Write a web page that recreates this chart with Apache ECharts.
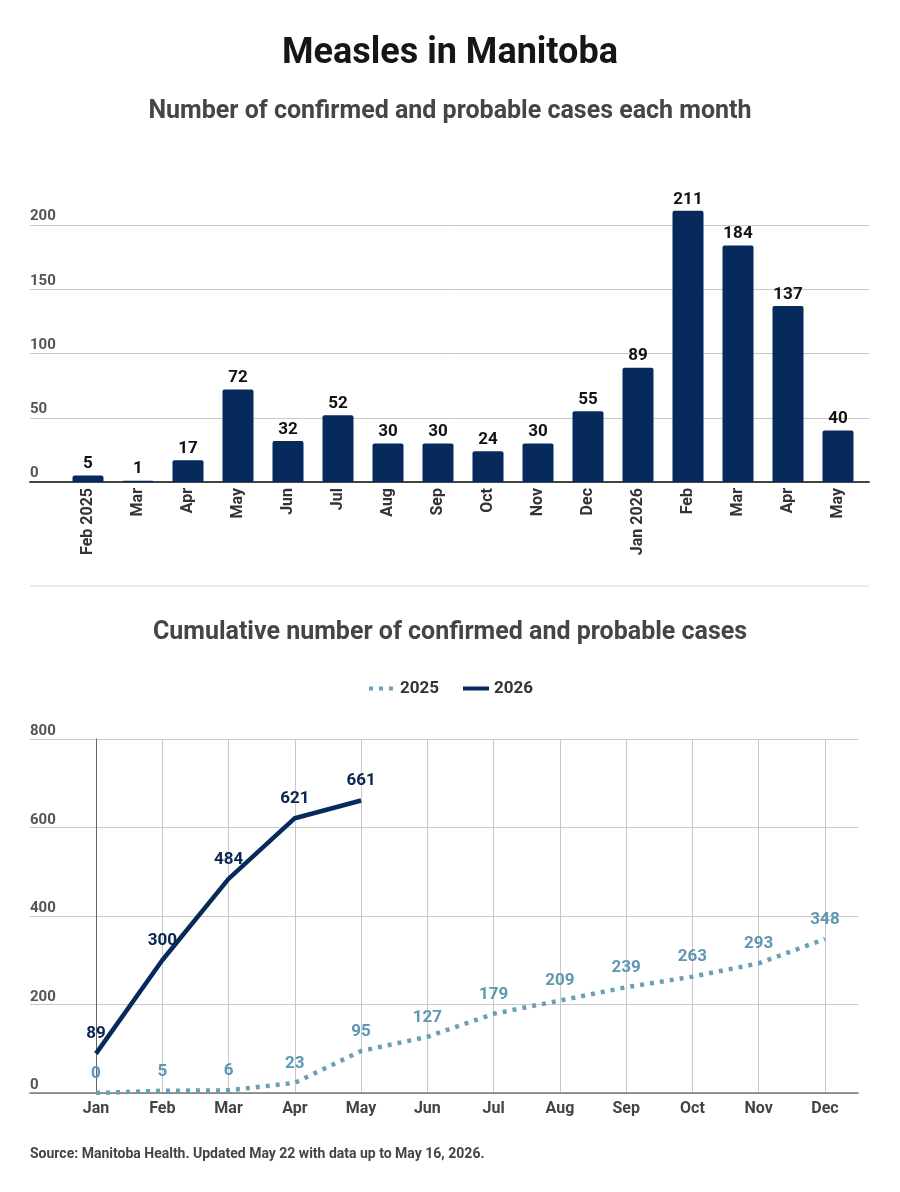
<!DOCTYPE html>
<html>
<head>
<meta charset="utf-8">
<script src="https://cdn.jsdelivr.net/npm/echarts@6/dist/echarts.min.js"></script>
<style>
html,body{margin:0;padding:0;background:#fff;}
#chart{width:900px;height:1192px;}
</style>
</head>
<body>
<div id="chart"></div>
<script>
// Monthly chart
var monthCategories = ['Feb 2025','Mar','Apr','May','Jun','Jul','Aug','Sep','Oct','Nov','Dec','Jan 2026','Feb','Mar','Apr','May'];
var monthlyCases = [5,1,17,72,32,52,30,30,24,30,55,89,211,184,137,40];
var monthlyTicks = [0,50,100,150,200];

// Cumulative chart
var cumMonths = ['Jan','Feb','Mar','Apr','May','Jun','Jul','Aug','Sep','Oct','Nov','Dec'];
var cum2025 = [0,5,6,23,95,127,179,209,239,263,293,348];
var cum2026 = [89,300,484,621,661];
var cumTicks = [0,200,400,600,800];

var NAVY = '#062a5c';
var TEAL = '#6a9fb8';
var FONT = 'Roboto, "Noto Sans", sans-serif';

var chart = echarts.init(document.getElementById('chart'), null, {renderer:'canvas'});

var option = {
  backgroundColor:'#ffffff',
  textStyle:{fontFamily:FONT},
  animation:false,
  title:[
    {text:'Measles in Manitoba', left:'center', top:31,
     textStyle:{fontFamily:FONT, fontSize:36, fontWeight:'bold', color:'#161616'}},
    {text:'Number of confirmed and probable cases each month', left:'center', top:94,
     textStyle:{fontFamily:FONT, fontSize:25, fontWeight:'bold', color:'#454545'}},
    {text:'Cumulative number of confirmed and probable cases', left:'center', top:615,
     textStyle:{fontFamily:FONT, fontSize:25, fontWeight:'bold', color:'#454545'}},
    {text:'Source: Manitoba Health. Updated May 22 with data up to May 16, 2026.', left:25, top:1142,
     textStyle:{fontFamily:FONT, fontSize:14, fontWeight:'bold', color:'#444'}}
  ],
  legend:{
    data:['2025','2026'], top:675, left:'center',
    itemWidth:26, itemHeight:14, itemGap:22,
    itemStyle:{opacity:0},
    lineStyle:{width:4},
    textStyle:{fontFamily:FONT, fontSize:17, fontWeight:'bold', color:'#333'}
  },
  graphic:[
    {type:'line', shape:{x1:30,y1:586,x2:869,y2:586}, style:{stroke:'#e6e6e6', lineWidth:1.5}}
  ],
  grid:[
    {left:30, right:31, top:225, bottom:710, containLabel:false},
    {left:63, right:37, top:160.75, bottom:710, containLabel:false},
    {left:30, right:42, top:739, bottom:99, containLabel:false},
    {left:96, right:75, top:739, bottom:99, containLabel:false}
  ],
  xAxis:[
    {gridIndex:0, type:'value', min:0, max:1, axisLabel:{show:false}, axisTick:{show:false},
     splitLine:{show:false}, axisLine:{show:true, lineStyle:{color:'#444', width:2}}},
    {gridIndex:1, type:'category', data:monthCategories, axisLine:{show:false}, axisTick:{show:false},
     axisLabel:{rotate:90, margin:6, fontFamily:FONT, fontSize:16, fontWeight:'bold', color:'#333', interval:0}},
    {gridIndex:2, type:'value', min:0, max:1, axisLabel:{show:false}, axisTick:{show:false},
     splitLine:{show:false}, axisLine:{show:true, lineStyle:{color:'#777', width:1.5}}},
    {gridIndex:3, type:'category', data:cumMonths, boundaryGap:false, axisLine:{show:false}, axisTick:{show:false},
     splitLine:{show:true, lineStyle:{color:'#c8c8c8', width:1}},
     axisLabel:{margin:8, fontFamily:FONT, fontSize:16, fontWeight:'bold', color:'#444', interval:0}}
  ],
  yAxis:[
    {gridIndex:0, type:'value', min:monthlyTicks[0], max:monthlyTicks[monthlyTicks.length-1], interval:50,
     axisLine:{show:false}, axisTick:{show:false},
     splitLine:{show:true, lineStyle:{color:'#c8c8c8', width:1}},
     axisLabel:{inside:true, margin:0, verticalAlign:'bottom', padding:[0,0,1,0],
       fontFamily:FONT, fontSize:15, fontWeight:'bold', color:'#555'}},
    {gridIndex:1, type:'value', min:0, max:250, show:false, splitLine:{show:false}},
    {gridIndex:2, type:'value', min:cumTicks[0], max:cumTicks[cumTicks.length-1], interval:200,
     axisLine:{show:false}, axisTick:{show:false},
     splitLine:{show:true, lineStyle:{color:'#c8c8c8', width:1}},
     axisLabel:{inside:true, margin:0, verticalAlign:'bottom', padding:[0,0,0,0],
       fontFamily:FONT, fontSize:15, fontWeight:'bold', color:'#555'}},
    {gridIndex:3, type:'value', min:0, max:800, axisLabel:{show:false}, axisTick:{show:false},
     splitLine:{show:false}, axisLine:{show:true, lineStyle:{color:'#666', width:1}}}
  ],
  series:[
    {name:'Monthly', type:'bar', xAxisIndex:1, yAxisIndex:1, data:monthlyCases, barWidth:31,
     itemStyle:{color:NAVY, borderRadius:[2,2,0,0]},
     label:{show:true, position:'top', distance:3, fontFamily:FONT, fontSize:17, fontWeight:'bold', color:'#111'}},
    {name:'2025', type:'line', xAxisIndex:3, yAxisIndex:3, data:cum2025, symbol:'none',
     lineStyle:{color:TEAL, width:4.5, type:[4,6], cap:'butt'}, itemStyle:{color:TEAL}, z:3},
    {name:'2026', type:'line', xAxisIndex:3, yAxisIndex:3, data:cum2026, symbol:'none',
     lineStyle:{color:NAVY, width:4.5}, itemStyle:{color:NAVY}, z:4},
    {name:'2025 labels', type:'scatter', xAxisIndex:3, yAxisIndex:3, data:cum2025, symbolSize:0,
     itemStyle:{color:TEAL, opacity:1}, silent:true, z:5,
     label:{show:true, position:'top', distance:11, fontFamily:FONT, fontSize:17, fontWeight:'bold', color:'#5f97b3'}},
    {name:'2026 labels', type:'scatter', xAxisIndex:3, yAxisIndex:3, data:cum2026, symbolSize:0,
     itemStyle:{color:NAVY, opacity:1}, silent:true, z:6,
     label:{show:true, position:'top', distance:11, fontFamily:FONT, fontSize:17, fontWeight:'bold', color:'#0a2550'}}
  ]
};
chart.setOption(option);
</script>
</body>
</html>
